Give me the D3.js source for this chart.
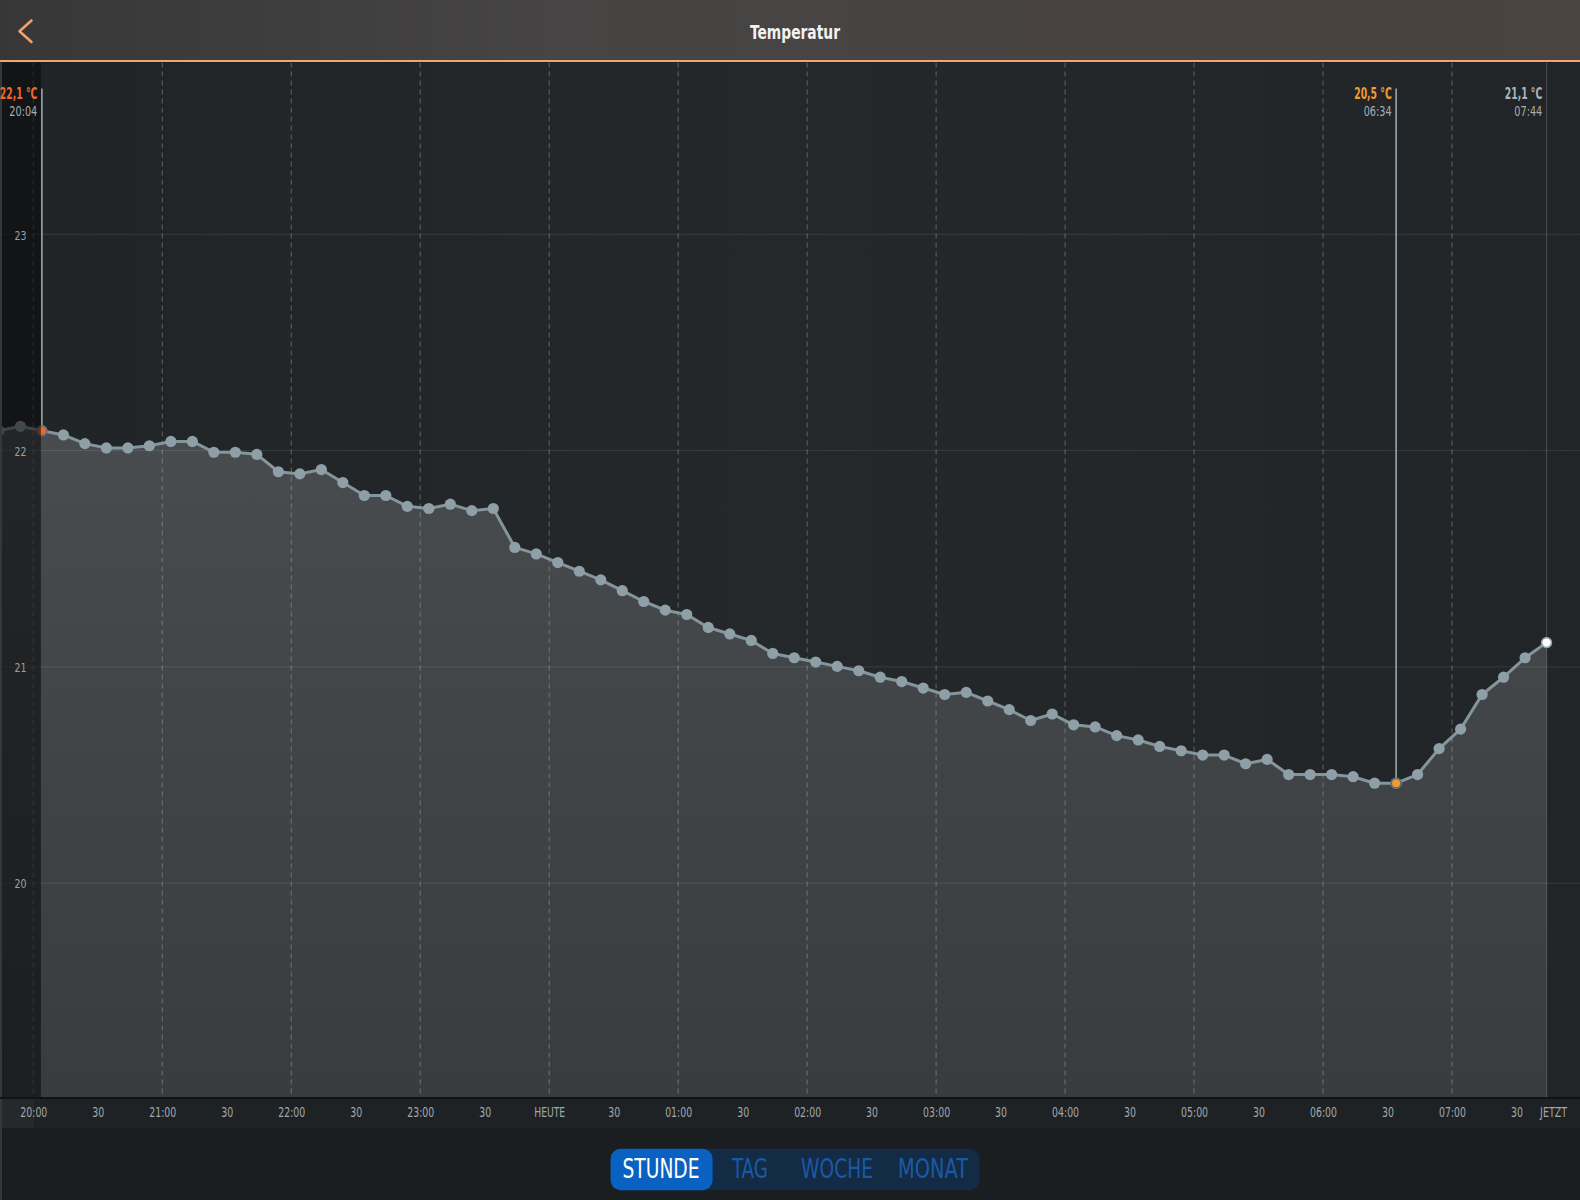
<!DOCTYPE html>
<html>
<head>
<meta charset="utf-8">
<script src="https://cdn.jsdelivr.net/npm/d3@7"></script>
<style>
  body { margin: 0; background: #1b1e20; }
  svg { display: block; }
  text { font-family: "DejaVu Sans", sans-serif; font-stretch: condensed; }
</style>
</head>
<body>
<svg id="chart"></svg>
<script>
// readings every 10 minutes, 19:44 (before range start) up to 07:44 ("JETZT")
const times = [
  "19:44", "19:54", "20:04", "20:14", "20:24", "20:34", "20:44", "20:54",
  "21:04", "21:14", "21:24", "21:34", "21:44", "21:54", "22:04", "22:14",
  "22:24", "22:34", "22:44", "22:54", "23:04", "23:14", "23:24", "23:34",
  "23:44", "23:54", "00:04", "00:14", "00:24", "00:34", "00:44", "00:54",
  "01:04", "01:14", "01:24", "01:34", "01:44", "01:54", "02:04", "02:14",
  "02:24", "02:34", "02:44", "02:54", "03:04", "03:14", "03:24", "03:34",
  "03:44", "03:54", "04:04", "04:14", "04:24", "04:34", "04:44", "04:54",
  "05:04", "05:14", "05:24", "05:34", "05:44", "05:54", "06:04", "06:14",
  "06:24", "06:34", "06:44", "06:54", "07:04", "07:14", "07:24", "07:34",
  "07:44"
];
const temps = [
  22.09, 22.11, 22.09, 22.07, 22.03, 22.01, 22.01, 22.02,
  22.04, 22.04, 21.99, 21.99, 21.98, 21.90, 21.89, 21.91,
  21.85, 21.79, 21.79, 21.74, 21.73, 21.75, 21.72, 21.73,
  21.55, 21.52, 21.48, 21.44, 21.40, 21.35, 21.30, 21.26,
  21.24, 21.18, 21.15, 21.12, 21.06, 21.04, 21.02, 21.00,
  20.98, 20.95, 20.93, 20.90, 20.87, 20.88, 20.84, 20.80,
  20.75, 20.78, 20.73, 20.72, 20.68, 20.66, 20.63, 20.61,
  20.59, 20.59, 20.55, 20.57, 20.50, 20.50, 20.50, 20.49,
  20.46, 20.46, 20.50, 20.62, 20.71, 20.87, 20.95, 21.04,
  21.11
];

const rangeStart = "20:04";
const minTime = "06:34";
const nowTime = "07:44";

const yTicks = [20, 21, 22, 23];
const hourLines = ["20:00", "21:00", "22:00", "23:00", "00:00", "01:00",
  "02:00", "03:00", "04:00", "05:00", "06:00", "07:00"];
const xTicks = ["20:00", "20:30", "21:00", "21:30", "22:00", "22:30", "23:00", "23:30",
  "00:00", "00:30", "01:00", "01:30", "02:00", "02:30", "03:00", "03:30",
  "04:00", "04:30", "05:00", "05:30", "06:00", "06:30", "07:00", "07:30", "07:44"];
const xTickLabels = ["20:00", "30", "21:00", "30", "22:00", "30", "23:00", "30",
  "HEUTE", "30", "01:00", "30", "02:00", "30", "03:00", "30",
  "04:00", "30", "05:00", "30", "06:00", "30", "07:00", "30", "JETZT"];
const periods = ["STUNDE", "TAG", "WOCHE", "MONAT"];

const W = 1580, H = 1200;
const headerH = 60.5;
const plotTop = 62.5, plotBottom = 1098;

// evening hours belong to the first day, morning hours to the next one
function parseT(s) {
  const [h, m] = s.split(":").map(Number);
  return new Date(2021, 0, h >= 12 ? 1 : 2, h, m);
}

const data = times.map((t, i) => ({ date: parseT(t), value: temps[i] }));
const fmtC = v => d3.format(".1f")(v).replace(".", ",") + " °C";
const fmtHM = d3.timeFormat("%H:%M");

const x = d3.scaleTime()
  .domain([parseT("20:00"), parseT("07:00")])
  .range([33.3, 1452]);
const y = d3.scaleLinear()
  .domain([20, 23])
  .range([882.7, 233.8]);

const svg = d3.select("#chart").attr("width", W).attr("height", H);
const defs = svg.append("defs");

const hg = defs.append("linearGradient").attr("id", "hdr");
hg.append("stop").attr("offset", "0%").attr("stop-color", "#373737");
hg.append("stop").attr("offset", "35%").attr("stop-color", "#464444");
hg.append("stop").attr("offset", "100%").attr("stop-color", "#4a433f");

const ag = defs.append("linearGradient").attr("id", "area")
  .attr("x1", 0).attr("y1", 0).attr("x2", 0).attr("y2", 1);
ag.append("stop").attr("offset", "0%").attr("stop-color", "#484c4f");
ag.append("stop").attr("offset", "100%").attr("stop-color", "#393c3f");

const bg = defs.append("linearGradient").attr("id", "plotbg");
bg.append("stop").attr("offset", "0%").attr("stop-color", "#212427");
bg.append("stop").attr("offset", "50%").attr("stop-color", "#25282b");
bg.append("stop").attr("offset", "100%").attr("stop-color", "#222528");

defs.append("clipPath").attr("id", "plotclip")
  .append("rect").attr("x", 0).attr("y", plotTop).attr("width", W).attr("height", plotBottom - plotTop);

// backgrounds
svg.append("rect").attr("width", W).attr("height", H).attr("fill", "#1b1e20");
svg.append("rect").attr("x", 0).attr("y", plotTop).attr("width", W).attr("height", plotBottom - plotTop)
  .attr("fill", "url(#plotbg)");

const plot = svg.append("g").attr("clip-path", "url(#plotclip)");

// area under the curve
const area = d3.area().x(d => x(d.date)).y0(plotBottom).y1(d => y(d.value));
plot.append("path").datum(data).attr("d", area).attr("fill", "url(#area)");

// horizontal grid
plot.append("g")
  .call(d3.axisLeft(y).tickValues(yTicks).tickSize(-W).tickFormat(""))
  .call(g => g.select(".domain").remove())
  .selectAll("line").attr("stroke", "rgba(255,255,255,0.1)").attr("stroke-width", 1);

// hour dashed lines
plot.selectAll(".hour").data(hourLines).join("line")
  .attr("class", "hour")
  .attr("x1", d => x(parseT(d))).attr("x2", d => x(parseT(d)))
  .attr("y1", plotTop).attr("y2", plotBottom)
  .attr("stroke", "rgba(190,200,205,0.38)")
  .attr("stroke-width", 1)
  .attr("stroke-dasharray", "5,4");

// now line
plot.append("line")
  .attr("x1", x(parseT(nowTime))).attr("x2", x(parseT(nowTime)))
  .attr("y1", plotTop).attr("y2", plotBottom)
  .attr("stroke", "rgba(190,200,205,0.22)").attr("stroke-width", 1.2);

// curve and points
const line = d3.line().x(d => x(d.date)).y(d => y(d.value));
plot.append("path").datum(data).attr("d", line)
  .attr("fill", "none").attr("stroke", "#85959c").attr("stroke-width", 3)
  .attr("stroke-linejoin", "round");

plot.selectAll(".pt").data(data).join("circle")
  .attr("class", "pt")
  .attr("cx", d => x(d.date)).attr("cy", d => y(d.value))
  .attr("r", 5.6).attr("fill", "#8e9fa7");

// marker lines + highlighted points
const startD = data.find(d => fmtHM(d.date) === rangeStart);
const minD = data.find(d => fmtHM(d.date) === minTime);
const nowD = data.find(d => fmtHM(d.date) === nowTime);

[startD, minD].forEach(d => {
  plot.append("line")
    .attr("x1", x(d.date)).attr("x2", x(d.date))
    .attr("y1", 88.5).attr("y2", y(d.value))
    .attr("stroke", "#9fb0b7").attr("stroke-width", 1.5);
});

plot.append("circle").attr("cx", x(startD.date)).attr("cy", y(startD.value))
  .attr("r", 5.6).attr("fill", "#5f6d73");
plot.append("circle").attr("cx", x(startD.date)).attr("cy", y(startD.value))
  .attr("r", 4).attr("fill", "#f1662b");
plot.append("circle").attr("cx", x(minD.date)).attr("cy", y(minD.value))
  .attr("r", 5.6).attr("fill", "#5c6b72");
plot.append("circle").attr("cx", x(minD.date)).attr("cy", y(minD.value))
  .attr("r", 4).attr("fill", "#f39a2d");
plot.append("circle").attr("cx", x(nowD.date)).attr("cy", y(nowD.value))
  .attr("r", 5.6).attr("fill", "#8e9fa7");
plot.append("circle").attr("cx", x(nowD.date)).attr("cy", y(nowD.value))
  .attr("r", 4.2).attr("fill", "#ffffff");

// dimmed strip before the range start
plot.append("rect")
  .attr("x", 0).attr("y", plotTop)
  .attr("width", x(startD.date) - 1).attr("height", plotBottom - plotTop)
  .attr("fill", "rgba(8,9,10,0.58)");

// left edge
svg.append("rect").attr("x", 0).attr("y", plotTop).attr("width", 2).attr("height", H - plotTop)
  .attr("fill", "#34383b");

// y labels
svg.append("g")
  .call(d3.axisLeft(y).tickValues(yTicks).tickSize(0).tickFormat(d3.format("d")))
  .call(g => g.select(".domain").remove())
  .selectAll("text")
  .attr("x", 20.5).attr("dy", "0.4em")
  .attr("text-anchor", "middle")
  .attr("fill", "#98a0a4")
  .attr("textLength", 12).attr("lengthAdjust", "spacingAndGlyphs")
  .style("font-size", "13px");

// marker labels
const markLabels = [
  { d: startD, xr: 37.3, color: "#f2692b" },
  { d: minD, xr: 1391.7, color: "#f39a2d" },
  { d: nowD, xr: 1542.3, color: "#a9b5ba" }
];
markLabels.forEach(m => {
  svg.append("text")
    .attr("x", m.xr).attr("y", 99.2)
    .attr("text-anchor", "end")
    .attr("fill", m.color)
    .attr("textLength", 37.5).attr("lengthAdjust", "spacingAndGlyphs")
    .style("font-size", "15px").style("font-weight", "bold")
    .text(fmtC(m.d.value));
  svg.append("text")
    .attr("x", m.xr).attr("y", 115.6)
    .attr("text-anchor", "end")
    .attr("fill", "#a4aeb2")
    .attr("textLength", 28).attr("lengthAdjust", "spacingAndGlyphs")
    .style("font-size", "13.5px")
    .text(fmtHM(m.d.date));
});

// x axis band
svg.append("rect").attr("x", 2).attr("y", plotBottom).attr("width", W - 2).attr("height", 30)
  .attr("fill", "#1f2224");
svg.append("rect").attr("x", 2).attr("y", plotBottom).attr("width", 32).attr("height", 30)
  .attr("fill", "#26292b");
svg.append("line").attr("x1", 0).attr("x2", W).attr("y1", plotBottom).attr("y2", plotBottom)
  .attr("stroke", "#101213").attr("stroke-width", 2);

const labelW = s => s === "30" ? 12 : (s === "HEUTE" ? 31 : 27);
const xAxis = svg.append("g")
  .attr("transform", `translate(0,${plotBottom})`)
  .call(d3.axisBottom(x).tickValues(xTicks.map(parseT)).tickSize(0)
    .tickFormat((d, i) => xTickLabels[i]));
xAxis.select(".domain").remove();
xAxis.selectAll("text")
  .attr("y", 9.5)
  .attr("fill", "#a0a8ac")
  .attr("textLength", function () { return labelW(this.textContent); })
  .attr("lengthAdjust", "spacingAndGlyphs")
  .style("font-size", "13.5px");
xAxis.selectAll(".tick").filter((d, i) => i === xTicks.length - 1)
  .select("text").attr("dx", 6.5);

// header
svg.append("rect").attr("width", W).attr("height", headerH).attr("fill", "url(#hdr)");
svg.append("rect").attr("x", 0).attr("y", headerH - 0.5).attr("width", W).attr("height", 2)
  .attr("fill", "#f0a577");
svg.append("path")
  .attr("d", "M31.5,20.5 L19.5,31.2 L31.5,42")
  .attr("fill", "none").attr("stroke", "#f0a070")
  .attr("stroke-width", 2.6).attr("stroke-linecap", "round").attr("stroke-linejoin", "round");
svg.append("text")
  .attr("x", 795).attr("y", 31.5)
  .attr("text-anchor", "middle").attr("dominant-baseline", "central")
  .attr("fill", "#f2f2f2")
  .attr("textLength", 90).attr("lengthAdjust", "spacingAndGlyphs")
  .style("font-size", "20px").style("font-weight", "bold")
  .text("Temperatur");

// period selector
const seg = svg.append("g");
seg.append("rect").attr("x", 610.6).attr("y", 1148.8).attr("width", 369).attr("height", 41.5)
  .attr("rx", 10).attr("fill", "#142b45");
seg.append("rect").attr("x", 610.6).attr("y", 1148.8).attr("width", 102).attr("height", 41.5)
  .attr("rx", 10).attr("fill", "#0962c1");
const segCx = [661, 750, 837, 933];
const segW = [77, 36, 72, 70];
seg.selectAll(".seg").data(periods).join("text")
  .attr("class", "seg")
  .attr("x", (d, i) => segCx[i])
  .attr("y", 1169.2)
  .attr("text-anchor", "middle").attr("dominant-baseline", "central")
  .attr("fill", (d, i) => i === 0 ? "#ffffff" : "#1a5aa5")
  .attr("textLength", (d, i) => segW[i]).attr("lengthAdjust", "spacingAndGlyphs")
  .style("font-size", "26px").style("font-weight", (d, i) => i === 0 ? "500" : "normal")
  .text(d => d);
</script>
</body>
</html>
